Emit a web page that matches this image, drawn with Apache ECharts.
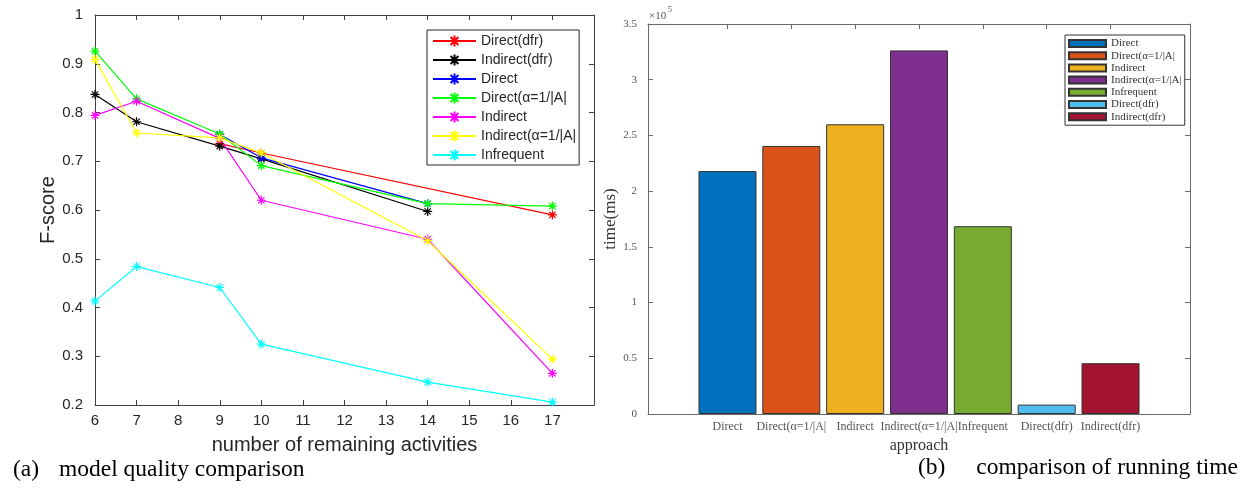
<!DOCTYPE html>
<html>
<head>
<meta charset="utf-8">
<script src="https://cdn.jsdelivr.net/npm/echarts@6/dist/echarts.min.js"></script>
<style>
  html, body { margin: 0; padding: 0; background: #fff; }
  #chart { width: 1243px; height: 492px; }
</style>
</head>
<body>
<div id="chart"></div>
<script>
// (a) F-score per number of remaining activities
const activityCounts = [6, 7, 9, 10, 14, 17];
const fDirectDfr    = [null, null, 0.736, 0.717, null, 0.590];
const fIndirectDfr  = [0.837, 0.781, 0.731, 0.705, 0.597, null];
const fDirect       = [null, null, 0.755, 0.707, 0.613, null];
const fDirectAlpha  = [0.926, 0.828, 0.756, 0.691, 0.613, 0.608];
const fIndirect     = [0.794, 0.823, 0.747, 0.620, 0.540, 0.265];
const fIndirectAlpha = [0.909, 0.758, 0.748, 0.717, 0.537, 0.294];
const fInfrequent   = [0.413, 0.484, 0.441, 0.325, 0.247, 0.206];

// (b) running time per approach (ms)
const approaches = ['Direct', 'Direct(α=1/|A|', 'Indirect', 'Indirect(α=1/|A|', 'Infrequent', 'Direct(dfr)', 'Indirect(dfr)'];
const runTimes = [218000, 240500, 260000, 326300, 168500, 8400, 45600];

const lineNames = ['Direct(dfr)', 'Indirect(dfr)', 'Direct', 'Direct(α=1/|A|', 'Indirect', 'Indirect(α=1/|A|', 'Infrequent'];
const lineColors = ['#ff0000', '#000000', '#0000ff', '#00ff00', '#ff00ff', '#ffff00', '#00ffff'];
const lineValues = [fDirectDfr, fIndirectDfr, fDirect, fDirectAlpha, fIndirect, fIndirectAlpha, fInfrequent];
const barColors = ['#0072bd', '#d95319', '#edb120', '#7e2f8e', '#77ac30', '#4dbeee', '#a2142f'];

const SANS = '"Liberation Sans", Arial, sans-serif';
const SERIF = '"Liberation Serif", "Times New Roman", serif';
const star = 'path://M5 0L5 10M0 5L10 5M1.5 1.5L8.5 8.5M8.5 1.5L1.5 8.5';
// bar series share names with the line series, so they get a hidden tag
const BAR_TAG = ' #bar';

const chart = echarts.init(document.getElementById('chart'));

const lineSeries = lineNames.map((name, i) => ({
  name: name,
  type: 'line',
  xAxisIndex: 0,
  yAxisIndex: 0,
  data: activityCounts.map((x, j) => [x, lineValues[i][j]]),
  connectNulls: true,
  symbol: star,
  symbolSize: 9,
  showSymbol: true,
  color: lineColors[i],
  lineStyle: { width: 1.2, color: lineColors[i] },
  itemStyle: { color: lineColors[i], borderColor: lineColors[i], borderWidth: 1.2 }
}));

const barSeries = approaches.map((name, i) => ({
  name: name + BAR_TAG,
  type: 'bar',
  xAxisIndex: 2,
  yAxisIndex: 2,
  stack: 'time',
  barWidth: 58,
  data: [[i + 1, runTimes[i]]],
  color: barColors[i],
  itemStyle: { color: barColors[i], borderColor: '#333', borderWidth: 1 }
}));

const leftLine = { show: true, onZero: false, lineStyle: { color: '#404040', width: 1 } };
const rightLine = { show: true, onZero: false, lineStyle: { color: '#6a6a6a', width: 1 } };
const catTicks = [1, 2, 3, 4, 5, 6, 7];

const option = {
  animation: false,
  grid: [
    { left: 95, top: 15, width: 499, height: 390 },
    { left: 648, top: 24, width: 542, height: 390 }
  ],
  legend: [
    {
      data: lineNames,
      left: 427, top: 30,
      orient: 'vertical',
      itemWidth: 43, itemHeight: 14, itemGap: 5,
      padding: [4, 3, 3, 5],
      borderColor: '#262626', borderWidth: 1,
      backgroundColor: '#fff',
      textStyle: { fontFamily: SANS, fontSize: 14, color: '#262626', lineHeight: 14 }
    },
    {
      data: approaches.map(n => n + BAR_TAG),
      formatter: n => n.replace(BAR_TAG, ''),
      left: 1065, top: 35,
      orient: 'vertical',
      icon: 'rect',
      itemWidth: 37, itemHeight: 7, itemGap: 1.2,
      padding: [3, 3, 3, 3],
      borderColor: '#333', borderWidth: 1,
      backgroundColor: '#fff',
      textStyle: { fontFamily: SERIF, fontSize: 11, color: '#333', lineHeight: 11 }
    }
  ],
  xAxis: [
    {
      gridIndex: 0, type: 'value', min: 6, max: 18, interval: 1,
      name: 'number of remaining activities', nameLocation: 'middle', nameGap: 30,
      nameTextStyle: { fontFamily: SANS, fontSize: 20, color: '#262626' },
      axisLine: leftLine,
      axisTick: { inside: true, length: 5, lineStyle: { color: '#404040' } },
      axisLabel: { margin: 8, fontFamily: SANS, fontSize: 15, color: '#262626', showMaxLabel: false },
      splitLine: { show: false }
    },
    {
      gridIndex: 0, type: 'value', min: 6, max: 18, interval: 1, position: 'top',
      axisLine: leftLine,
      axisTick: { inside: true, length: 5, lineStyle: { color: '#404040' } },
      axisLabel: { show: false },
      splitLine: { show: false }
    },
    {
      gridIndex: 1, type: 'value', min: -0.245, max: 8.245,
      name: 'approach', nameLocation: 'middle', nameGap: 23,
      nameTextStyle: { fontFamily: SERIF, fontSize: 16, color: '#333' },
      axisLine: rightLine,
      axisTick: { inside: true, length: 5, customValues: catTicks, lineStyle: { color: '#6a6a6a' } },
      axisLabel: {
        customValues: catTicks, margin: 7,
        fontFamily: SERIF, fontSize: 12, color: '#555',
        formatter: v => approaches[Math.round(v) - 1] || ''
      },
      splitLine: { show: false }
    },
    {
      gridIndex: 1, type: 'value', min: -0.245, max: 8.245, position: 'top',
      axisLine: rightLine,
      axisTick: { inside: true, length: 5, customValues: catTicks, lineStyle: { color: '#6a6a6a' } },
      axisLabel: { show: false },
      splitLine: { show: false }
    }
  ],
  yAxis: [
    {
      gridIndex: 0, type: 'value', min: 0.2, max: 1, interval: 0.1,
      name: 'F-score', nameLocation: 'middle', nameGap: 34, nameRotate: 90,
      nameTextStyle: { fontFamily: SANS, fontSize: 20, color: '#262626' },
      axisLine: leftLine,
      axisTick: { inside: true, length: 5, lineStyle: { color: '#404040' } },
      axisLabel: { margin: 12, fontFamily: SANS, fontSize: 15, color: '#262626', formatter: v => String(+v.toFixed(1)) },
      splitLine: { show: false }
    },
    {
      gridIndex: 0, type: 'value', min: 0.2, max: 1, interval: 0.1, position: 'right',
      axisLine: leftLine,
      axisTick: { inside: true, length: 5, lineStyle: { color: '#404040' } },
      axisLabel: { show: false },
      splitLine: { show: false }
    },
    {
      gridIndex: 1, type: 'value', min: 0, max: 350000, interval: 50000,
      name: 'time(ms)', nameLocation: 'middle', nameGap: 25, nameRotate: 90,
      nameTextStyle: { fontFamily: SERIF, fontSize: 17, color: '#333' },
      axisLine: rightLine,
      axisTick: { inside: true, length: 5, lineStyle: { color: '#6a6a6a' } },
      axisLabel: { margin: 11, fontFamily: SERIF, fontSize: 11, color: '#555', formatter: v => String(v / 1e5) },
      splitLine: { show: false }
    },
    {
      gridIndex: 1, type: 'value', min: 0, max: 350000, interval: 50000, position: 'right',
      axisLine: rightLine,
      axisTick: { inside: true, length: 5, lineStyle: { color: '#6a6a6a' } },
      axisLabel: { show: false },
      splitLine: { show: false }
    }
  ],
  graphic: [
    { type: 'text', left: 649, top: 11, style: { text: '×10', font: '11px ' + SERIF, fill: '#555' } },
    { type: 'text', left: 668, top: 6, style: { text: '5', font: '8px ' + SERIF, fill: '#555' } },
    { type: 'text', left: 13, top: 458, style: { text: '(a)', font: '23.5px ' + SERIF, fill: '#000' } },
    { type: 'text', left: 59, top: 458, style: { text: 'model quality comparison', font: '23.5px ' + SERIF, fill: '#000' } },
    { type: 'text', left: 918, top: 456, style: { text: '(b)', font: '23.5px ' + SERIF, fill: '#000' } },
    { type: 'text', right: 5, top: 456, style: { text: 'comparison of running time', font: '23.5px ' + SERIF, fill: '#000' } }
  ],
  series: lineSeries.concat(barSeries)
};

chart.setOption(option);
</script>
</body>
</html>
